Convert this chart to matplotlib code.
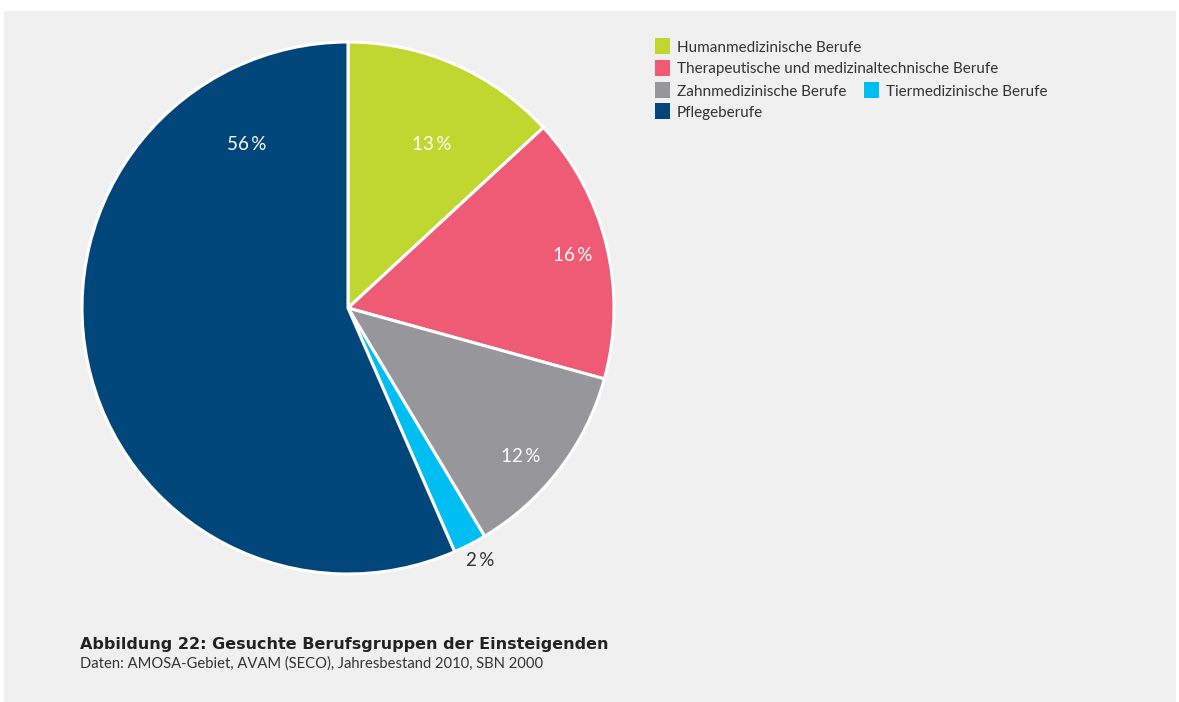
import matplotlib
matplotlib.use('Agg')
import matplotlib.pyplot as plt
from matplotlib.patches import Rectangle
import numpy as np

plt.rcParams['font.family'] = ['Lato', 'DejaVu Sans']

categories = ['Humanmedizinische Berufe',
              'Therapeutische und medizinaltechnische Berufe',
              'Zahnmedizinische Berufe',
              'Tiermedizinische Berufe',
              'Pflegeberufe']
values = [13, 16, 12, 2, 56]
colors = ['#c0d72f', '#ef5b75', '#97979b', '#00bdf2', '#00467a']
label_colors = ['white', 'white', 'white', '#333333', 'white']

W, H = 1179, 702
bg = '#f0f0f0'

fig = plt.figure(figsize=(W / 100, H / 100), dpi=100)
fig.patch.set_facecolor('white')
# gray panel
fig.patches.append(Rectangle((4 / W, 0), 1172 / W, (H - 11) / H,
                             transform=fig.transFigure, facecolor=bg,
                             edgecolor='none', zorder=-5))

# pie axes (center ~ (348, 308), radius ~266 px)
cx, cy, r = 348, 308, 266
ax = fig.add_axes([(cx - r) / W, (H - cy - r) / H, 2 * r / W, 2 * r / H])
ax.set_zorder(2)
ax.set_facecolor('none')
wedges, _ = ax.pie(values, colors=colors, startangle=90, counterclock=False,
                   radius=1, wedgeprops=dict(edgecolor='white', linewidth=2.2))
ax.set_xlim(-1, 1)
ax.set_ylim(-1, 1)
ax.set_aspect('equal')
ax.axis('off')

# percentage labels: angle (deg) and radius per wedge
label_ang = [62.8, 13.2, -40.6, -62.4, 121.9]
label_r = [0.690, 0.867, 0.855, 1.07, 0.722]
for i in range(len(values)):
    a = np.deg2rad(label_ang[i])
    ax.text(label_r[i] * np.cos(a), label_r[i] * np.sin(a), f'{values[i]}\u2009%',
            ha='center', va='center', fontsize=13.5, color=label_colors[i])

# legend (manual, as in the reference layout)
rows = [(655, 46, 0), (655, 68, 1), (655, 90, 2), (864, 90, 3), (655, 111, 4)]
for x, y, i in rows:
    fig.patches.append(Rectangle((x / W, (H - y - 7.5) / H), 15 / W, 15 / H,
                                 transform=fig.transFigure, facecolor=colors[i],
                                 edgecolor='none', zorder=3))
    fig.text((x + 22) / W, (H - y - 1.5) / H, categories[i], ha='left', va='center',
             fontsize=11, color='#333333')

fig.text(80 / W, (H - 645) / H, 'Abbildung 22: Gesuchte Berufsgruppen der Einsteigenden',
         ha='left', va='center', fontsize=11.5, fontweight='bold', color='#222222',
         family=['DejaVu Sans'])
fig.text(80 / W, (H - 664) / H, 'Daten: AMOSA-Gebiet, AVAM (SECO), Jahresbestand 2010, SBN 2000',
         ha='left', va='center', fontsize=10.6, color='#333333')

fig.savefig('out.png', dpi=100, facecolor=fig.get_facecolor())
